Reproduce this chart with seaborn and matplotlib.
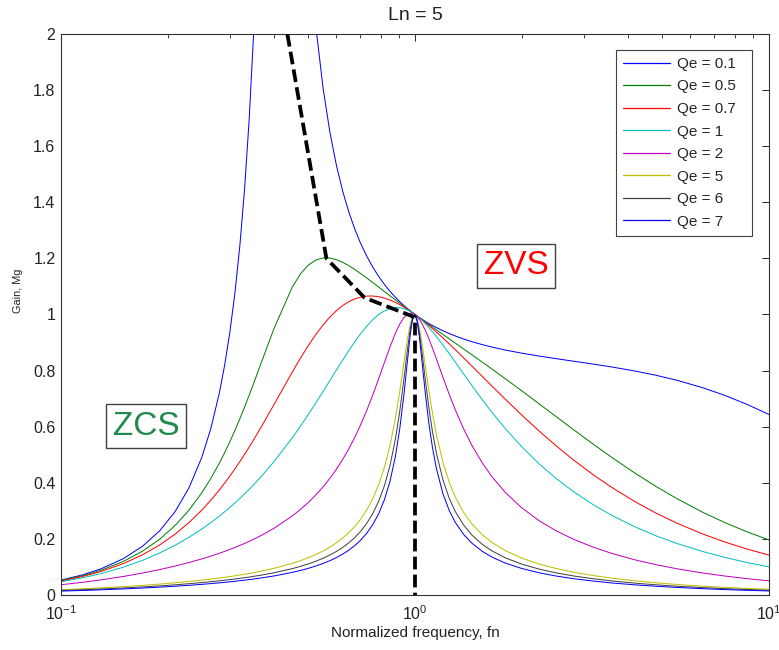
import numpy as np
import pandas as pd
import matplotlib
matplotlib.use("Agg")
import matplotlib.pyplot as plt
import seaborn as sns
from matplotlib.ticker import MultipleLocator, FuncFormatter, LogLocator, NullFormatter

# ---------------- data ----------------
fn = [0.1, 0.115, 0.13, 0.15, 0.17, 0.19, 0.21, 0.23, 0.25, 0.265, 0.28, 0.29, 0.3, 0.31,
      0.32, 0.33, 0.34, 0.35, 0.37, 0.4, 0.45, 0.475, 0.5, 0.525, 0.55, 0.575, 0.6, 0.625,
      0.65, 0.675, 0.7, 0.73, 0.76, 0.79, 0.82, 0.85, 0.88, 0.905, 0.93, 0.95, 0.97, 0.985,
      1.0, 1.015, 1.03, 1.05, 1.07, 1.095, 1.12, 1.15, 1.2, 1.25, 1.3, 1.375, 1.45, 1.55,
      1.65, 1.8, 2.0, 2.25, 2.5, 2.8, 3.2, 3.6, 4.2, 4.8, 5.5, 6.5, 7.5, 8.7, 10]

gain_q01 = [0.0531, 0.0717, 0.0938, 0.1296, 0.1739, 0.2288, 0.2971, 0.3827, 0.4914, 0.5935,
            0.7192, 0.8199, 0.9379, 1.0774, 1.2443, 1.4462, 1.6935, 1.9996, 2.857, 4.632,
            3.615, 2.830, 2.341, 2.0242, 1.8066, 1.6492, 1.5309, 1.4391, 1.3660, 1.3067,
            1.2573, 1.2089, 1.1688, 1.1353, 1.1069, 1.0825, 1.0615, 1.0460, 1.0321, 1.0220,
            1.0127, 1.0062, 1.0, 0.9942, 0.9886, 0.9817, 0.9752, 0.9677, 0.9608, 0.9532,
            0.9418, 0.9320, 0.9234, 0.9123, 0.9029, 0.8925, 0.8839, 0.8733, 0.8623, 0.8515,
            0.8427, 0.8336, 0.8229, 0.8128, 0.7981, 0.7832, 0.7654, 0.7389, 0.7117, 0.6787,
            0.6435]
gain_q05 = [0.0514, 0.0686, 0.0886, 0.1197, 0.1564, 0.1989, 0.2477, 0.3029, 0.3648, 0.4155,
            0.4697, 0.5076, 0.5467, 0.5870, 0.6282, 0.6699, 0.7120, 0.7541, 0.8367, 0.9513,
            1.0974, 1.1450, 1.1765, 1.1944, 1.2018, 1.2013, 1.1954, 1.1859, 1.1742, 1.1611,
            1.1471, 1.1305, 1.1138, 1.0975, 1.0818, 1.0667, 1.0522, 1.0406, 1.0294, 1.0207,
            1.0122, 1.0061, 1.0, 0.9941, 0.9882, 0.9806, 0.9732, 0.9641, 0.9553, 0.9451,
            0.9287, 0.9129, 0.8979, 0.8763, 0.8558, 0.8299, 0.8054, 0.7709, 0.7284, 0.6801,
            0.6367, 0.5901, 0.5362, 0.4901, 0.4329, 0.3866, 0.3431, 0.2949, 0.2582, 0.2244,
            0.1963]
gain_q07 = [0.0499, 0.0660, 0.0842, 0.1119, 0.1433, 0.1783, 0.2168, 0.2585, 0.3030, 0.3381,
            0.3744, 0.3992, 0.4243, 0.4498, 0.4755, 0.5014, 0.5273, 0.5532, 0.6047, 0.6799,
            0.7945, 0.8450, 0.8900, 0.9293, 0.9630, 0.9910, 1.0139, 1.0319, 1.0455, 1.0553,
            1.0615, 1.0656, 1.0659, 1.0633, 1.0583, 1.0515, 1.0431, 1.0352, 1.0266, 1.0193,
            1.0118, 1.0059, 1.0, 0.9939, 0.9878, 0.9796, 0.9712, 0.9606, 0.9500, 0.9372,
            0.9160, 0.8950, 0.8744, 0.8443, 0.8154, 0.7789, 0.7447, 0.6977, 0.6422, 0.5828,
            0.5326, 0.4820, 0.4272, 0.3832, 0.3314, 0.2917, 0.2558, 0.2174, 0.1889, 0.1632,
            0.1422]
gain_q1 = [0.0471, 0.0612, 0.0766, 0.0992, 0.1237, 0.1498, 0.1772, 0.2058, 0.2353, 0.2580,
           0.2811, 0.2967, 0.3124, 0.3283, 0.3443, 0.3604, 0.3767, 0.3931, 0.4260, 0.4761,
           0.5603, 0.6024, 0.6442, 0.6854, 0.7257, 0.7649, 0.8024, 0.8380, 0.8713, 0.9018,
           0.9292, 0.9580, 0.9816, 1.0000, 1.0131, 1.0212, 1.0246, 1.0241, 1.0208, 1.0165,
           1.0108, 1.0057, 1.0, 0.9937, 0.9870, 0.9773, 0.9669, 0.9532, 0.9389, 0.9211,
           0.8907, 0.8601, 0.8300, 0.7864, 0.7456, 0.6957, 0.6511, 0.5929, 0.5291, 0.4659,
           0.4162, 0.3689, 0.3206, 0.2835, 0.2418, 0.2108, 0.1835, 0.1549, 0.1340, 0.1154,
           0.1003]
gain_q2 = [0.0366, 0.0453, 0.0541, 0.0661, 0.0783, 0.0906, 0.1031, 0.1159, 0.1288, 0.1387,
           0.1488, 0.1556, 0.1625, 0.1696, 0.1767, 0.1839, 0.1912, 0.1987, 0.2140, 0.2381,
           0.2816, 0.3053, 0.3304, 0.3571, 0.3857, 0.4161, 0.4487, 0.4836, 0.5209, 0.5607,
           0.6030, 0.6568, 0.7135, 0.7717, 0.8296, 0.8844, 0.9326, 0.9652, 0.9887, 1.0003,
           1.0051, 1.0043, 1.0, 0.9924, 0.9820, 0.9642, 0.9430, 0.9130, 0.8807, 0.8408,
           0.7753, 0.7144, 0.6598, 0.5897, 0.5320, 0.4703, 0.4215, 0.3654, 0.3112, 0.2636,
           0.2294, 0.1990, 0.1697, 0.1482, 0.1248, 0.1080, 0.0934, 0.0784, 0.0677, 0.0581,
           0.0504]
gain_q5 = [0.0189, 0.0222, 0.0255, 0.0299, 0.0343, 0.0389, 0.0435, 0.0482, 0.0530, 0.0568,
           0.0606, 0.0632, 0.0658, 0.0685, 0.0712, 0.0740, 0.0768, 0.0797, 0.0857, 0.0952,
           0.1128, 0.1226, 0.1331, 0.1446, 0.1571, 0.1709, 0.1861, 0.2031, 0.2222, 0.2437,
           0.2682, 0.3027, 0.3440, 0.3942, 0.4562, 0.5332, 0.6287, 0.7230, 0.8259, 0.9051,
           0.9677, 0.9947, 1.0, 0.9834, 0.9489, 0.8854, 0.8139, 0.7267, 0.6492, 0.5711,
           0.4721, 0.4012, 0.3489, 0.2925, 0.2526, 0.2146, 0.1873, 0.1581, 0.1318, 0.1099,
           0.0947, 0.0815, 0.0690, 0.0601, 0.0504, 0.0435, 0.0376, 0.0315, 0.0271, 0.0233,
           0.0202]
gain_q6 = [0.0161, 0.0188, 0.0215, 0.0251, 0.0288, 0.0325, 0.0363, 0.0403, 0.0443, 0.0474,
           0.0505, 0.0527, 0.0549, 0.0571, 0.0594, 0.0617, 0.0640, 0.0665, 0.0714, 0.0794,
           0.0940, 0.1022, 0.1110, 0.1206, 0.1311, 0.1427, 0.1555, 0.1698, 0.1859, 0.2041,
           0.2251, 0.2547, 0.2905, 0.3347, 0.3904, 0.4618, 0.5545, 0.6519, 0.7674, 0.8650,
           0.9498, 0.9898, 1.0, 0.9788, 0.9329, 0.8511, 0.7644, 0.6657, 0.5832, 0.5044,
           0.4094, 0.3442, 0.2973, 0.2477, 0.2130, 0.1804, 0.1571, 0.1324, 0.1102, 0.0918,
           0.0790, 0.0680, 0.0576, 0.0501, 0.0420, 0.0363, 0.0313, 0.0263, 0.0226, 0.0194,
           0.0168]
gain_q7 = [0.0139, 0.0162, 0.0185, 0.0216, 0.0248, 0.0280, 0.0312, 0.0346, 0.0380, 0.0406,
           0.0433, 0.0452, 0.0470, 0.0490, 0.0509, 0.0529, 0.0549, 0.0570, 0.0612, 0.0680,
           0.0806, 0.0876, 0.0952, 0.1034, 0.1124, 0.1224, 0.1334, 0.1458, 0.1597, 0.1755,
           0.1938, 0.2196, 0.2511, 0.2903, 0.3403, 0.4057, 0.4934, 0.5900, 0.7120, 0.8238,
           0.9297, 0.9841, 1.0, 0.9735, 0.9150, 0.8153, 0.7161, 0.6101, 0.5263, 0.4493,
           0.3601, 0.3005, 0.2584, 0.2144, 0.1840, 0.1555, 0.1352, 0.1138, 0.0947, 0.0788,
           0.0678, 0.0583, 0.0494, 0.0429, 0.0360, 0.0311, 0.0269, 0.0225, 0.0194, 0.0166,
           0.0144]

series_labels = ["Qe = 0.1", "Qe = 0.5", "Qe = 0.7", "Qe = 1", "Qe = 2",
                 "Qe = 5", "Qe = 6", "Qe = 7"]
series_values = [gain_q01, gain_q05, gain_q07, gain_q1, gain_q2, gain_q5, gain_q6, gain_q7]
series_colors = ["#0000ff", "#008000", "#ff0000", "#00bfbf", "#bf00bf",
                 "#bfbf00", "#404040", "#0000ff"]

# peak-gain boundary (dashed)
boundary_fn = [0.436, 0.562, 0.72, 1.0, 1.0]
boundary_gain = [2.0, 1.2, 1.06, 0.99, 0.0]

title_text = "Ln = 5"
xlabel_text = "Normalized frequency, fn"
ylabel_text = "Gain, Mg"

for v in series_values:
    assert len(v) == len(fn)

# ---------------- build table ----------------
rows = []
for lab, vals in zip(series_labels, series_values):
    for x, y in zip(fn, vals):
        rows.append({"fn": x, "gain": y, "curve": lab})
df = pd.DataFrame(rows)

# ---------------- style ----------------
sns.set_style("white")
plt.rcParams["font.family"] = ["Liberation Sans", "DejaVu Sans"]
plt.rcParams["mathtext.fontset"] = "custom"
plt.rcParams["mathtext.rm"] = "Liberation Sans"
plt.rcParams["mathtext.it"] = "Liberation Sans:italic"
plt.rcParams["mathtext.bf"] = "Liberation Sans:bold"

fig = plt.figure(figsize=(7.79, 6.5), dpi=100)
ax = fig.add_axes([61 / 779, 55 / 650, 708 / 779, 561 / 650])
ax.set_xscale("log")

sns.lineplot(data=df, x="fn", y="gain", hue="curve", hue_order=series_labels,
             palette=dict(zip(series_labels, series_colors)), estimator=None,
             sort=False, linewidth=0.72, ax=ax)

ax.plot(boundary_fn, boundary_gain, color="black", linewidth=2.7,
        dashes=(3.4, 1.4), zorder=5, solid_capstyle="butt", dash_capstyle="butt")

ax.set_xlim(0.1, 10)
ax.set_ylim(0, 2)
ax.yaxis.set_major_locator(MultipleLocator(0.2))
ax.yaxis.set_major_formatter(FuncFormatter(lambda v, p: f"{round(v, 1):g}"))
ax.xaxis.set_major_locator(LogLocator(base=10, numticks=10))
ax.xaxis.set_minor_locator(LogLocator(base=10, subs=np.arange(2, 10), numticks=20))
ax.xaxis.set_minor_formatter(NullFormatter())

ax.tick_params(which="both", direction="in", top=True, right=True,
               colors="#222222", labelsize=11.5)
ax.tick_params(which="major", length=5, width=0.7)
ax.tick_params(axis="y", which="major", pad=4)
ax.tick_params(axis="x", which="major", pad=7)
ax.tick_params(which="minor", length=3, width=0.6)
for s in ax.spines.values():
    s.set_linewidth(0.8)
    s.set_color("#333333")

ax.set_title(title_text, fontsize=14, pad=10, color="#222222")
ax.set_xlabel(xlabel_text, fontsize=11, labelpad=2, color="#222222")
ax.set_ylabel(ylabel_text, fontsize=7.8, color="#222222")
ax.yaxis.set_label_coords(-0.054, 0.542)

# legend
old = ax.get_legend()
handles = old.legend_handles
labels = [t.get_text() for t in old.get_texts()]
old.remove()
leg = ax.legend(handles, labels, loc="upper right",
                bbox_to_anchor=(0.7839, 0.0, 0.1921, 0.9715), mode="expand",
                borderaxespad=0, fancybox=False, edgecolor="#404040", framealpha=1,
                fontsize=11, handlelength=3.1, handletextpad=0.45, labelspacing=0.56,
                borderpad=0.45)
leg.get_frame().set_linewidth(0.8)
for h in leg.legend_handles:
    h.set_linewidth(0.9)

# region annotations
ax.text(1.934, 1.173, "ZVS", color="#ff0000", fontsize=24, ha="center", va="center",
        bbox=dict(boxstyle="square,pad=0.2", fc="white", ec="#404040", lw=1), zorder=6)
ax.text(0.174, 0.602, "ZCS", color="#1f8a4c", fontsize=24, ha="center", va="center",
        bbox=dict(boxstyle="square,pad=0.2", fc="white", ec="#404040", lw=1), zorder=6)

fig.savefig("out.png", dpi=100)
